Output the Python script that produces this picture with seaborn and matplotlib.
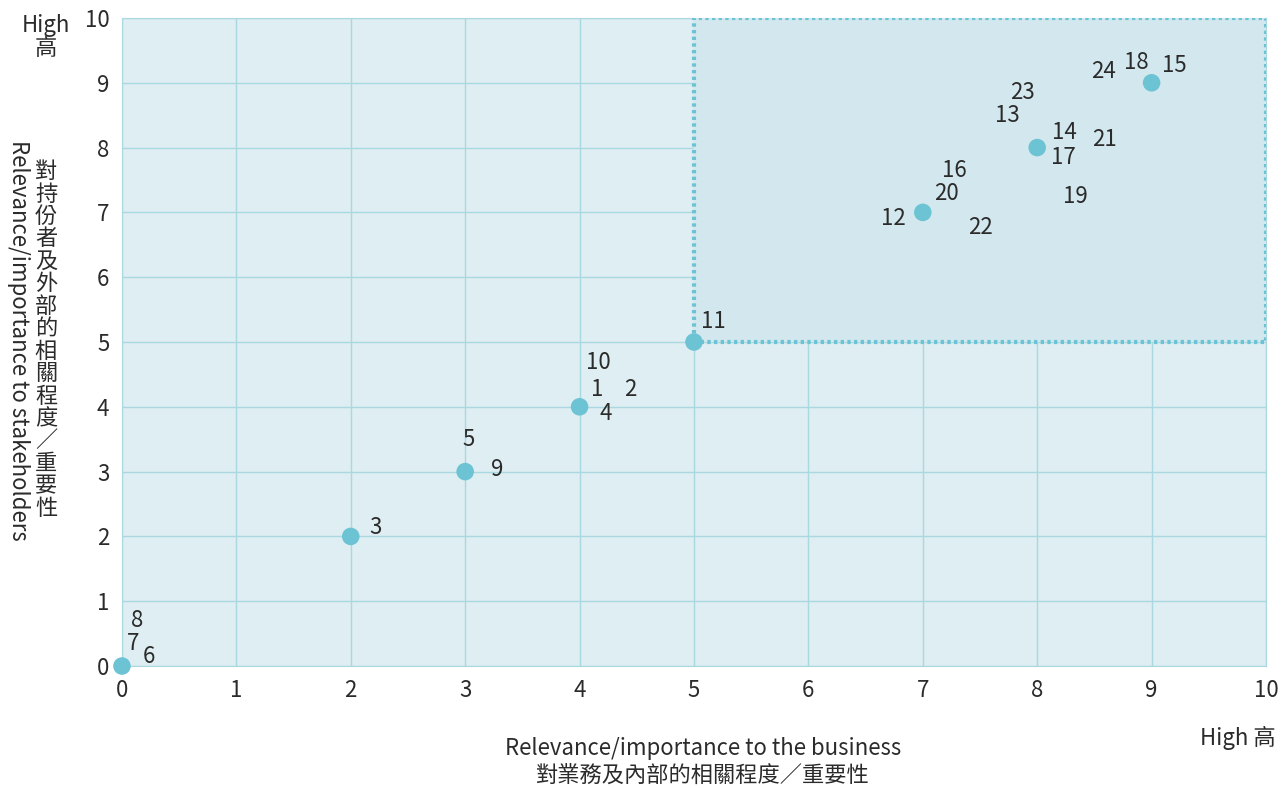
import matplotlib
matplotlib.use('Agg')
import matplotlib.pyplot as plt
import matplotlib.patches as mpatches
import seaborn as sns
import pandas as pd

# materiality issues: id, relevance to business, relevance to stakeholders
issue_ids = [1, 2, 3, 4, 5, 6, 7, 8, 9, 10, 11, 12,
             13, 14, 15, 16, 17, 18, 19, 20, 21, 22, 23, 24]
business = [4, 4, 2, 4, 3, 0, 0, 0, 3, 4, 5, 7,
            8, 8, 9, 7, 8, 9, 8, 7, 8, 7, 8, 9]
stakeholders = [4, 4, 2, 4, 3, 0, 0, 0, 3, 4, 5, 7,
                8, 8, 9, 7, 8, 9, 8, 7, 8, 7, 8, 9]

ticks = list(range(0, 11))
xlabel_en = 'Relevance/importance to the business'
xlabel_zh = '對業務及內部的相關程度／重要性'
ylabel_en = 'Relevance/importance to stakeholders'
ylabel_zh = '對持份者及外部的相關程度／重要性'

# label offsets from the point (layout only)
label_offset = {
    1: (0.15, 0.26), 2: (0.44, 0.26), 3: (0.22, 0.13), 4: (0.23, -0.10),
    5: (0.03, 0.49), 6: (0.24, 0.15), 7: (0.10, 0.35), 8: (0.13, 0.71),
    9: (0.28, 0.04), 10: (0.16, 0.68), 11: (0.17, 0.32), 12: (-0.26, -0.09),
    13: (-0.26, 0.50), 14: (0.24, 0.24), 15: (0.20, 0.26), 16: (0.28, 0.64),
    17: (0.23, -0.16), 18: (-0.13, 0.32), 19: (0.33, -0.76), 20: (0.21, 0.29),
    21: (0.59, 0.12), 22: (0.50, -0.24), 23: (-0.13, 0.85), 24: (-0.42, 0.17),
}

df = pd.DataFrame({'id': issue_ids, 'business': business, 'stakeholders': stakeholders})

sns.set_style('white')
plt.rcParams['font.family'] = ['Noto Sans CJK TC', 'DejaVu Sans']
plt.rcParams['font.weight'] = 'light'

bg = '#dfeef2'
hl = '#d3e8ee'
grid_c = '#a9d8e0'
dot_c = '#6cc3d3'
txt_c = '#2b2b2b'
fs = 16

fig = plt.figure(figsize=(12.81, 7.88), dpi=100)
ax = fig.add_axes([0.0952, 0.1548, 0.8931, 0.8224])
ax.set_facecolor(bg)

ax.add_patch(mpatches.Rectangle((5, 5), 5, 5, facecolor=hl, edgecolor=dot_c,
                                linestyle=(0, (0.8, 0.8)), linewidth=3, zorder=3))

sns.scatterplot(data=df.drop_duplicates(['business', 'stakeholders']),
                x='business', y='stakeholders', ax=ax, color=dot_c, s=160,
                edgecolor='none', zorder=4, clip_on=False)

for i, bx, sy in zip(issue_ids, business, stakeholders):
    dx, dy = label_offset[i]
    ax.text(bx + dx, sy + dy, str(i), ha='center', va='center',
            fontsize=fs, color=txt_c, zorder=5)

ax.set_xlim(0, 10)
ax.set_ylim(0, 10)
ax.set_xticks(ticks)
ax.set_yticks(ticks)
ax.set_xticklabels([str(t) for t in ticks])
ax.set_yticklabels([str(t) for t in ticks])
ax.tick_params(length=0, labelsize=fs, labelcolor=txt_c, pad=9)
ax.grid(True, color=grid_c, linewidth=1)
for line in ax.get_xgridlines() + ax.get_ygridlines():
    line.set_zorder(2)
for s in ax.spines.values():
    s.set_color(grid_c)
ax.set_xlabel('')
ax.set_ylabel('')

# axis titles
fig.text(703 / 1281, 1 - 748 / 788, xlabel_en, ha='center', va='center',
         fontsize=fs, color=txt_c)
fig.text(703 / 1281, 1 - 776 / 788, xlabel_zh, ha='center', va='center',
         fontsize=fs, color=txt_c)
fig.text(18 / 1281, 1 - 340 / 788, ylabel_en, ha='center', va='center',
         rotation=-90, fontsize=fs, color=txt_c)
fig.text(46 / 1281, 1 - 340 / 788, '\n'.join(ylabel_zh), ha='center', va='center',
         fontsize=fs, color=txt_c, linespacing=0.97)
fig.text(46 / 1281, 1 - 37 / 788, 'High\n高', ha='center', va='center',
         fontsize=fs, color=txt_c, linespacing=0.95)
fig.text(1238 / 1281, 1 - 738 / 788, 'High 高', ha='center', va='center',
         fontsize=fs, color=txt_c)

fig.savefig('out.png', dpi=100)
